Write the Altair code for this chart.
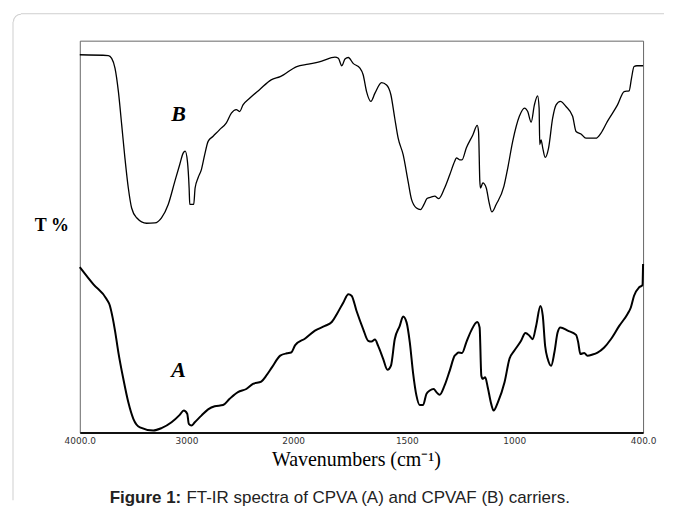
import altair as alt
import pandas as pd

# ---- data ----
B_wn = [4000, 3732, 3701, 3670, 3638, 3607, 3577, 3545, 3514, 3467,
        3374, 3296, 3234, 3171, 3109, 3063, 3031, 3012, 2991, 2975,
        2969, 2932, 2919, 2891, 2860, 2829, 2797, 2750, 2689, 2626,
        2579, 2533, 2502, 2470, 2408, 2315, 2206, 2121, 1984, 1933,
        1874, 1816, 1801, 1786, 1772, 1757, 1736, 1706, 1692, 1677,
        1658, 1640, 1611, 1589, 1570, 1553, 1538, 1516, 1494, 1478,
        1455, 1436, 1420, 1406, 1385, 1370, 1351, 1324, 1300, 1277,
        1269, 1254, 1243, 1223, 1192, 1172, 1166, 1160, 1157, 1146,
        1130, 1118, 1104, 1084, 1048, 1030, 1007, 976, 952, 937,
        921, 906, 891, 884, 881, 875, 867, 856, 840, 821,
        805, 785, 759, 728, 712, 689, 666, 620, 596, 566,
        519, 488, 465, 454, 442, 429, 400]
B_T = [96.4, 96.2, 95.5, 93.0, 87.0, 78.5, 70.1, 62.4, 57.3, 54.8,
       53.4, 53.5, 54.8, 58.2, 64.1, 68.4, 71.3, 71.8, 69.2, 62.4,
       58.2, 58.2, 62.4, 65.0, 67.1, 70.9, 74.3, 75.6, 77.3, 79.0,
       81.5, 82.4, 81.9, 83.6, 85.3, 87.5, 90.0, 90.8, 93.4, 94.0,
       94.8, 95.8, 95.5, 93.6, 95.3, 95.7, 94.2, 93.0, 91.3, 87.0,
       84.5, 86.6, 89.3, 88.7, 86.2, 80.2, 75.1, 70.9, 64.1, 59.5,
       57.3, 56.9, 58.2, 59.7, 60.1, 60.3, 59.7, 62.4, 65.8, 69.2,
       70.1, 69.6, 69.6, 72.6, 76.0, 78.4, 76.8, 64.1, 62.4, 63.7,
       62.4, 59.0, 56.3, 58.2, 62.8, 67.5, 74.3, 80.7, 82.8, 81.9,
       79.2, 83.6, 85.9, 82.8, 73.5, 74.7, 72.6, 70.2, 72.6, 80.2,
       83.6, 84.5, 83.2, 80.7, 76.8, 76.2, 75.1, 75.1, 76.4, 79.4,
       83.6, 87.0, 87.2, 90.4, 93.4, 93.6, 93.6]

A_wn = [4000, 3872, 3748, 3717, 3692, 3670, 3638, 3592, 3545, 3498,
        3436, 3311, 3234, 3140, 3063, 3025, 2993, 2978, 2953, 2922,
        2860, 2797, 2735, 2657, 2595, 2517, 2439, 2377, 2299, 2252,
        2199, 2121, 2059, 2019, 1991, 1947, 1904, 1860, 1830, 1808,
        1779, 1757, 1743, 1721, 1692, 1670, 1655, 1640, 1626, 1604,
        1585, 1570, 1553, 1531, 1516, 1501, 1486, 1471, 1455, 1440,
        1424, 1409, 1393, 1375, 1362, 1347, 1324, 1300, 1277, 1269,
        1259, 1243, 1223, 1200, 1172, 1161, 1153, 1146, 1135, 1123,
        1107, 1096, 1076, 1045, 1022, 999, 968, 948, 929, 914,
        898, 878, 867, 856, 844, 828, 813, 798, 785, 751,
        712, 702, 692, 674, 659, 635, 612, 581, 550, 511,
        473, 457, 442, 419, 403, 400]
A_T = [42.2, 37.8, 34.0, 32.3, 29.3, 26.0, 20.4, 13.7, 7.7, 3.5,
       1.3, 0.5, 1.1, 2.6, 4.5, 5.6, 4.8, 2.2, 1.8, 2.6,
       4.3, 5.9, 6.7, 7.0, 8.6, 10.3, 11.1, 12.4, 13.0, 14.5,
       16.6, 19.6, 20.2, 20.4, 22.3, 24.0, 26.0, 27.2, 28.2, 30.2,
       33.2, 35.3, 34.9, 31.0, 26.4, 23.4, 23.2, 23.7, 22.1, 18.8,
       16.0, 17.0, 23.8, 27.2, 29.6, 28.1, 23.0, 15.3, 9.4, 7.0,
       7.0, 9.8, 10.7, 11.1, 10.3, 9.6, 12.0, 15.8, 19.6, 20.0,
       20.4, 20.3, 23.0, 26.0, 28.2, 26.8, 14.5, 13.7, 14.1, 11.5,
       7.3, 5.6, 7.7, 12.8, 18.8, 20.9, 23.4, 25.4, 24.7, 23.8,
       27.2, 32.3, 29.8, 22.1, 18.8, 17.0, 20.4, 25.5, 26.8, 26.0,
       24.9, 23.0, 20.0, 20.3, 19.6, 19.9, 20.4, 21.7, 23.8, 27.2,
       30.2, 31.9, 34.9, 37.0, 37.6, 43.0]

X_TICKS = [4000, 3000, 2000, 1500, 1000, 400]
X_BREAKS = [4000, 2000, 1500, 400]      # the instrument's scale changes at 2000
CURVE_LABELS = ["B", "A"]
Y_LABEL = "T  %"
X_TITLE = "Wavenumbers (cm\u207b\u00b9)"
CAPTION_BOLD = "Figure 1:"
CAPTION_TEXT = "FT-IR spectra of CPVA (A) and CPVAF (B) carriers."

W, H = 565, 393

dfB = pd.DataFrame({"wn": B_wn, "T": B_T, "i": list(range(len(B_wn)))})
dfA = pd.DataFrame({"wn": A_wn, "T": A_T, "i": list(range(len(A_wn)))})
one = pd.DataFrame({"a": [0]})

x_scale = alt.Scale(domain=X_BREAKS, range=[0, 214, 328, W], nice=False, zero=False)
y_scale = alt.Scale(domain=[0, 100], nice=False, zero=False)

x_axis = alt.Axis(
    values=X_TICKS,
    labelExpr="datum.value == 4000 ? '4000.0' : (datum.value == 400 ? '400.0' : '' + datum.value)",
    title=X_TITLE, ticks=False, grid=False,
    labelFont="DejaVu Sans", labelFontSize=9, labelColor="#333", labelPadding=4,
    labelFlush=False, labelOverlap=False,
    domainColor="#111", domainWidth=2,
    titleFont="Liberation Serif", titleFontSize=20, titleFontWeight="normal",
    titleColor="#000", titlePadding=4, titleX=277,
)

lineB = alt.Chart(dfB).mark_line(color="#000", strokeWidth=1.3, interpolate="monotone").encode(
    x=alt.X("wn:Q", scale=x_scale, axis=x_axis),
    y=alt.Y("T:Q", scale=y_scale, axis=None),
    order="i:Q",
)
lineA = alt.Chart(dfA).mark_line(color="#000", strokeWidth=2, interpolate="monotone").encode(
    x=alt.X("wn:Q", scale=x_scale, axis=x_axis),
    y=alt.Y("T:Q", scale=y_scale, axis=None),
    order="i:Q",
)

def label(text, x, y, **kw):
    return alt.Chart(one).mark_text(text=text, **kw).encode(x=alt.value(x), y=alt.value(y))

textB = label(CURVE_LABELS[0], 99, 74, font="Liberation Serif", fontSize=22,
              fontWeight="bold", fontStyle="italic", baseline="middle", align="center")
textA = label(CURVE_LABELS[1], 99, 330, font="Liberation Serif", fontSize=22,
              fontWeight="bold", fontStyle="italic", baseline="middle", align="center")
textT = label(Y_LABEL, -11, 186, font="Liberation Serif", fontSize=18,
              fontWeight="bold", baseline="middle", align="right")
cap1 = label(CAPTION_BOLD, 30, 459, font="Liberation Sans", fontSize=17,
             fontWeight="bold", baseline="middle", align="left", color="#222")
cap2 = label(CAPTION_TEXT, 107, 459, font="Liberation Sans", fontSize=17,
             baseline="middle", align="left", color="#222")

# light rounded page border (top and left sides)
border_top = alt.Chart(one).mark_rule(color="#cfcfcf", strokeWidth=1).encode(
    x=alt.value(-59), x2=alt.value(586), y=alt.value(-27))
border_left = alt.Chart(one).mark_rule(color="#cfcfcf", strokeWidth=1).encode(
    x=alt.value(-67), y=alt.value(-19), y2=alt.value(461))
corner = alt.Chart(one).mark_arc(x=-59, y=-19, radius=8, radius2=7,
                                 theta=4.7124, theta2=6.2832).encode(color=alt.value("#cfcfcf"))

chart = alt.layer(
    border_top, border_left, corner, lineB, lineA, textB, textA, textT, cap1, cap2
).properties(width=W, height=H, padding=4, background="white").configure_view(
    stroke="#666", strokeWidth=1
)

chart.save("out.html", embed_options={"renderer": "svg", "actions": False})
